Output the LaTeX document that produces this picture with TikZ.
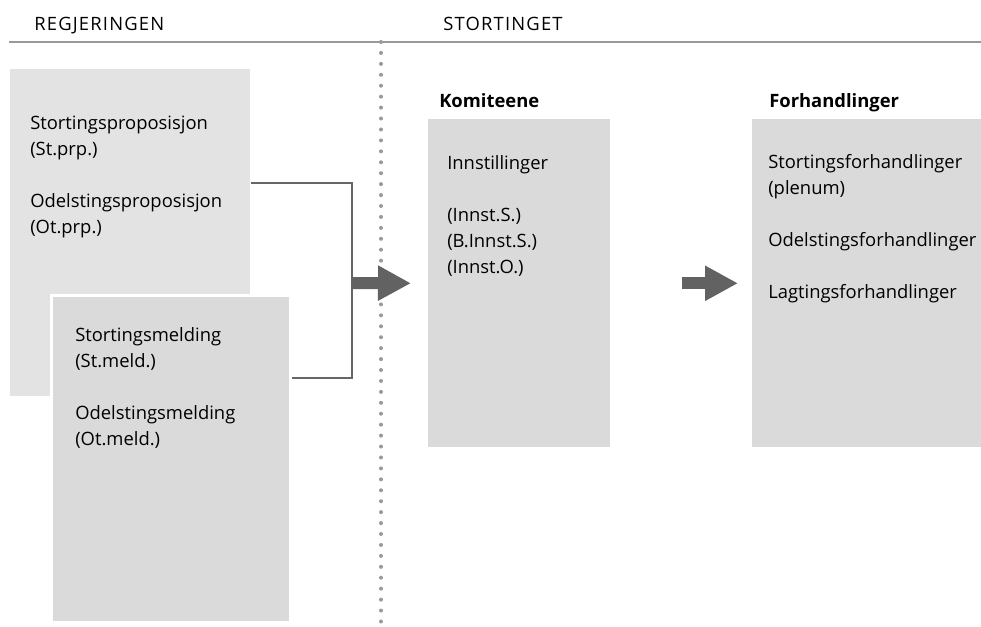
\documentclass[tikz,border=0pt]{standalone}
\usepackage{fontspec}
\setmainfont{Open Sans}
\usetikzlibrary{arrows.meta,calc}

\definecolor{lightbox}{HTML}{E3E3E3}
\definecolor{darkbox}{HTML}{DADADA}
\definecolor{rulegray}{HTML}{999999}
\definecolor{linkgray}{HTML}{666666}
\definecolor{arrowgray}{HTML}{626262}

\begin{document}
\begin{tikzpicture}[
    x=0.75pt, y=-0.75pt,
    box/.style={rectangle, inner sep=0pt, anchor=north west},
    txt/.style={anchor=base west, align=left, inner sep=0pt, font=\fontsize{13.8}{19.5}\selectfont},
    title/.style={anchor=base west, inner sep=0pt, font=\fontsize{13.8}{19.5}\selectfont\bfseries},
    head/.style={anchor=base west, inner sep=0pt, font=\fontsize{13.8}{19.5}\selectfont\addfontfeature{LetterSpace=6.5}},
    link/.style={draw=linkgray, line width=1.5pt},
    fat/.style={draw=arrowgray, line width=9pt, -{Triangle[length=24.75pt, width=24.75pt]}},
    dots/.style={draw=rulegray, line width=3pt, line cap=round, dash pattern=on 0pt off 8.2pt}
]
    \useasboundingbox (0,0) rectangle (981,626);

    % Headers
    \node[head] (regj) at (34,30) {REGJERINGEN};
    \node[head] (stort) at (443,30) {STORTINGET};
    \draw[rulegray, line width=1.9pt] (9,42) -- (981,42);
    \draw[dots] (381,42) -- (381,626);

    % Regjeringen (base = last line)
    \node[box, fill=lightbox, minimum width=180pt, minimum height=245.25pt] (prop) at (10,69) {};
    \node[box, fill=darkbox, draw=white, line width=2.25pt, minimum width=179.25pt, minimum height=245.25pt] (meld) at (50,294) {};
    \node[txt] (proptxt) at (30,233) {Stortingsproposisjon\\(St.prp.)\\[19.5pt]Odelstingsproposisjon\\(Ot.prp.)};
    \node[txt] (meldtxt) at (75,445) {Stortingsmelding\\(St.meld.)\\[19.5pt]Odelstingsmelding\\(Ot.meld.)};

    % Stortinget
    \node[title] (komtitle) at (439,107) {Komiteene};
    \node[box, fill=darkbox, minimum width=136.5pt, minimum height=246pt] (komite) at (428,119) {};
    \node[txt] (komtxt) at (447,273) {Innstillinger\\[19.5pt](Innst.S.)\\(B.Innst.S.)\\(Innst.O.)};

    \node[title] (forhtitle) at (769,107) {Forhandlinger};
    \node[box, fill=darkbox, minimum width=174pt, minimum height=246pt] (forh) at (752,119) {};
    \node[txt] (forhtxt) at (768,298) {Stortingsforhandlinger\\(plenum)\\[19.5pt]Odelstingsforhandlinger\\[19.5pt]Lagtingsforhandlinger};

    % Arrows
    \coordinate (join) at (352,283);
    \draw[link] ($(prop.north east)+(0,114)$) -| (join) |- ($(meld.north east)+(0,84)$);
    \draw[fat] (join) -- ($(komite.west)+(-17,0)$);
    \draw[fat] ($(komite.east)+(71,0)$) -- ($(forh.west)+(-14,0)$);
\end{tikzpicture}
\end{document}
